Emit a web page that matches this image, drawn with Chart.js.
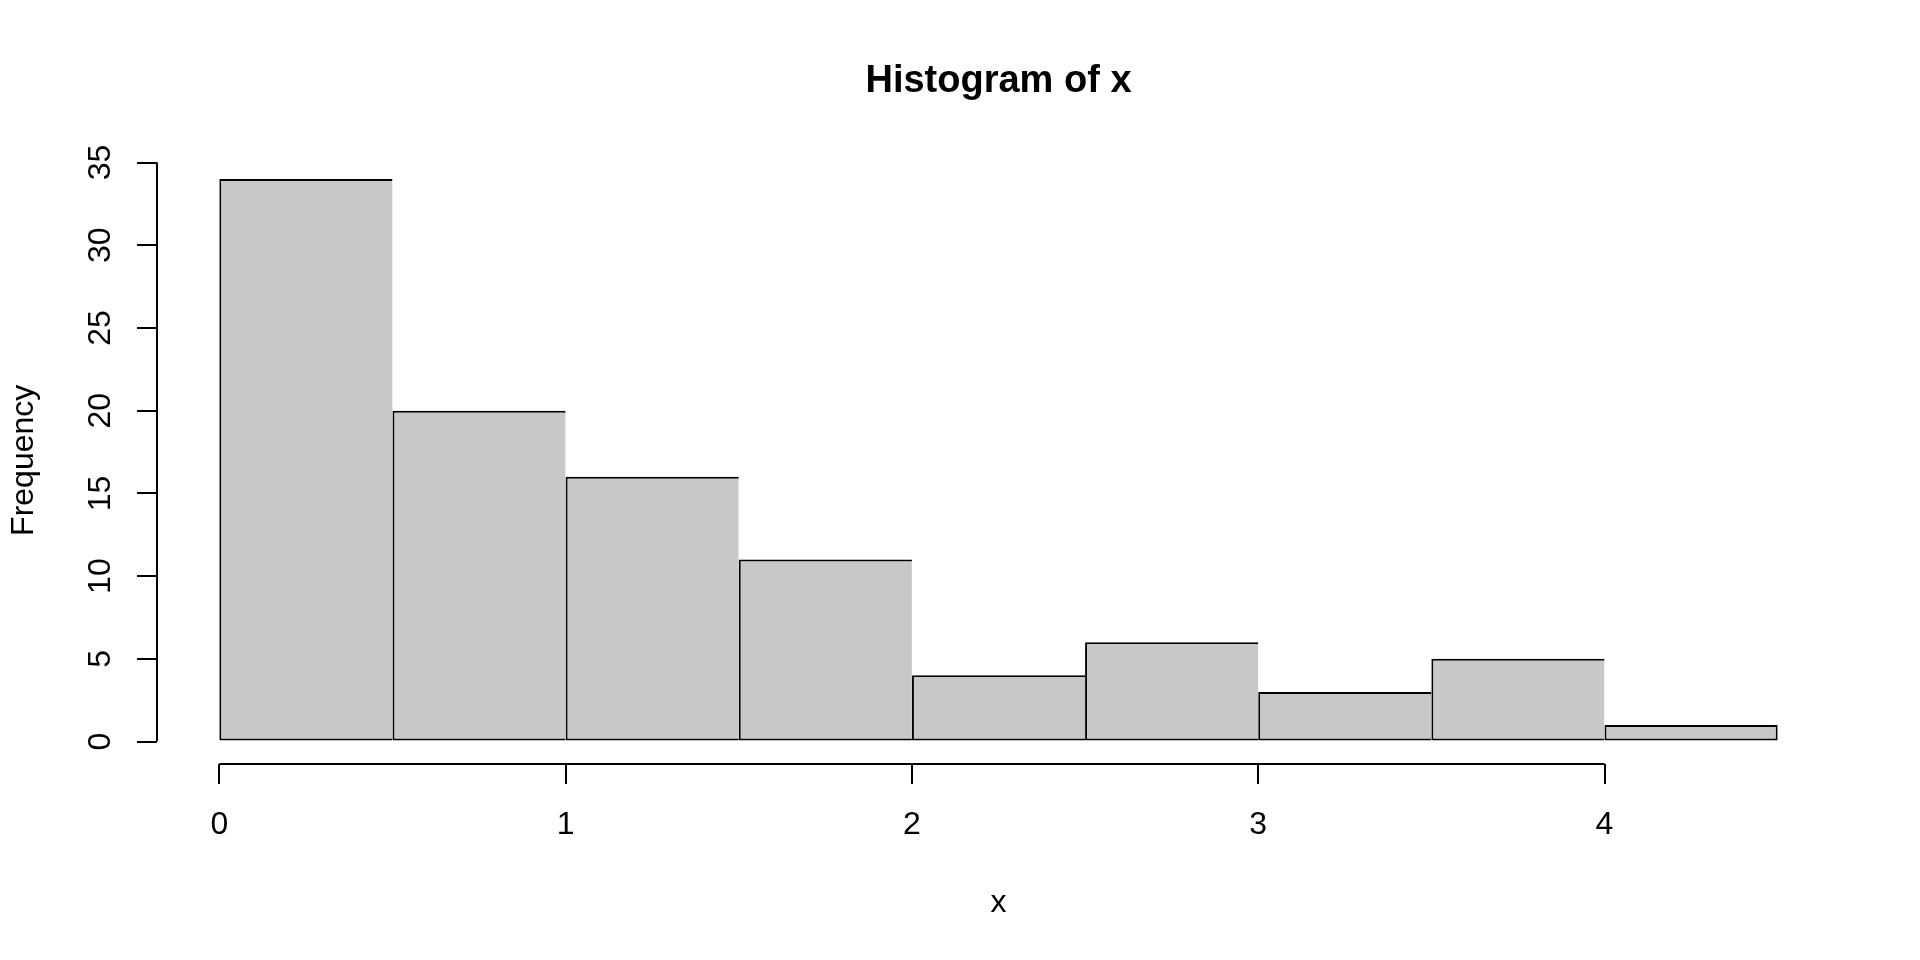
<!DOCTYPE html>
<html>
<head>
<meta charset="utf-8">
<title>Histogram of x</title>
<script src="https://cdn.jsdelivr.net/npm/chart.js@4.4.0/dist/chart.umd.min.js"></script>
<style>
    html, body { margin: 0; padding: 0; background: #ffffff; }
    #caixa { width: 1920px; height: 960px; }
</style>
</head>
<body>
<div id="caixa"><canvas id="histograma"></canvas></div>
<script>
'use strict';
// dados do histograma
const breaks = [0, 0.5, 1, 1.5, 2, 2.5, 3, 3.5, 4, 4.5];
const counts = [34, 20, 16, 11, 4, 6, 3, 5, 1];
const xTicks = [0, 1, 2, 3, 4];
const yTicks = [0, 5, 10, 15, 20, 25, 30, 35];

const fonte = '"Liberation Sans", Arial, Helvetica, sans-serif';

// limites como no R (4% a mais de cada lado)
const xMin = breaks[0], xMax = breaks[breaks.length - 1];
const yMax = Math.max(...counts);
const xPad = (xMax - xMin) * 0.04;
const yPad = yMax * 0.04;

const pontos = counts.map((c, i) => ({ x: (breaks[i] + breaks[i + 1]) / 2, y: c }));

// linhas dos eixos so entre o primeiro e o ultimo tick
const eixosR = {
    id: 'eixosR',
    afterDraw(chart) {
        const ctx = chart.ctx;
        const area = chart.chartArea;
        const x = chart.scales.x;
        const y = chart.scales.y;
        ctx.save();
        ctx.strokeStyle = '#000000';
        ctx.lineWidth = 2;
        ctx.beginPath();
        ctx.moveTo(x.getPixelForValue(xTicks[0]), area.bottom);
        ctx.lineTo(x.getPixelForValue(xTicks[xTicks.length - 1]), area.bottom);
        ctx.moveTo(area.left, y.getPixelForValue(yTicks[0]));
        ctx.lineTo(area.left, y.getPixelForValue(yTicks[yTicks.length - 1]));
        ctx.stroke();
        ctx.restore();
    }
};

const ctx = document.getElementById('histograma').getContext('2d');
const grafico = new Chart(ctx, {
    type: 'bar',
    plugins: [eixosR],
    data: {
        datasets: [{
            data: pontos,
            backgroundColor: '#c8c8c8',
            borderColor: '#000000',
            // borda partilhada entre barras vizinhas: so a esquerda de cada barra
            borderWidth: (c) => ({
                top: 2,
                bottom: 2,
                left: 2,
                right: c.dataIndex === counts.length - 1 ? 2 : 0
            }),
            borderSkipped: false,
            inflateAmount: 0,
            barPercentage: 1,
            categoryPercentage: 1
        }]
    },
    options: {
        responsive: true,
        maintainAspectRatio: false,
        devicePixelRatio: 1,
        animation: false,
        layout: {
            padding: { top: 0, left: 0, right: 80, bottom: 0 }
        },
        scales: {
            x: {
                type: 'linear',
                offset: false,
                min: xMin - xPad,
                max: xMax + xPad,
                afterBuildTicks: (s) => { s.ticks = xTicks.map(v => ({ value: v })); },
                afterFit: (s) => { s.height = 196; },
                grid: {
                    display: true,
                    offset: false,
                    drawOnChartArea: false,
                    drawTicks: true,
                    tickLength: 20,
                    color: '#000000',
                    lineWidth: 2
                },
                border: { display: false },
                ticks: {
                    autoSkip: false,
                    maxRotation: 0,
                    padding: 22,
                    color: '#000000',
                    font: { family: fonte, size: 32 },
                    callback: (v) => String(v)
                },
                title: {
                    display: true,
                    text: 'x',
                    color: '#000000',
                    font: { family: fonte, size: 32 },
                    padding: { top: 0, bottom: 38 }
                }
            },
            y: {
                type: 'linear',
                min: -yPad,
                max: yMax + yPad,
                afterBuildTicks: (s) => { s.ticks = yTicks.map(v => ({ value: v })); },
                afterFit: (s) => { s.width = 157; },
                grid: {
                    display: true,
                    drawOnChartArea: false,
                    drawTicks: true,
                    tickLength: 20,
                    color: '#000000',
                    lineWidth: 2
                },
                border: { display: false },
                ticks: {
                    autoSkip: false,
                    minRotation: 90,
                    maxRotation: 90,
                    crossAlign: 'center',
                    padding: 18,
                    color: '#000000',
                    font: { family: fonte, size: 32 },
                    callback: (v) => String(v)
                },
                title: {
                    display: true,
                    text: 'Frequency',
                    color: '#000000',
                    font: { family: fonte, size: 32 },
                    padding: { top: 5, bottom: 0 }
                }
            }
        },
        plugins: {
            legend: { display: false },
            tooltip: { enabled: false },
            title: {
                display: true,
                text: 'Histogram of x',
                fullSize: false,
                color: '#000000',
                font: { family: fonte, size: 38, weight: 'bold' },
                padding: { top: 59, bottom: 52 }
            }
        }
    }
});
</script>
</body>
</html>
